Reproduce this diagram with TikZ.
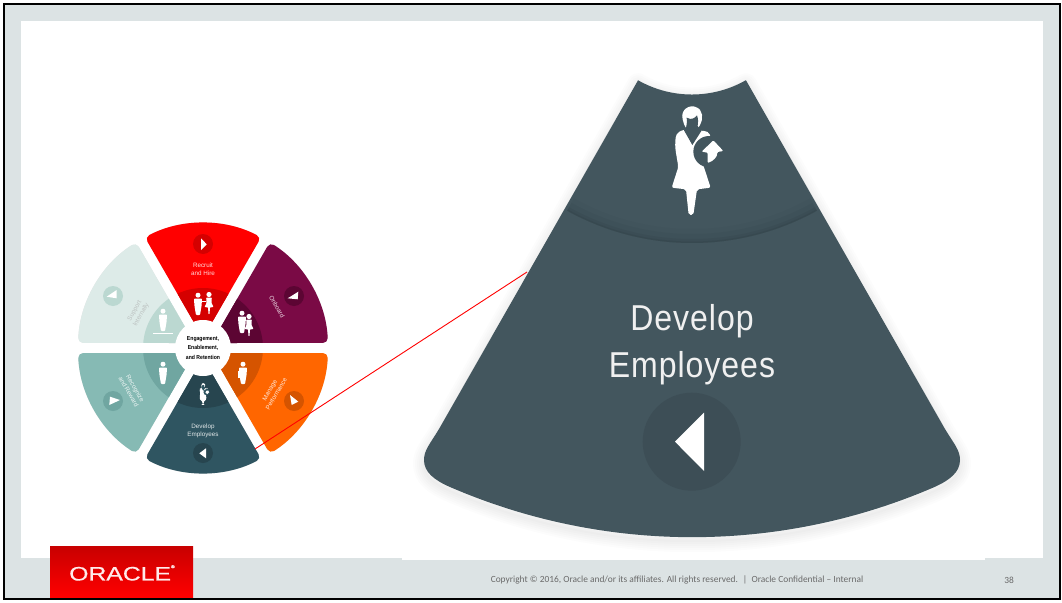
\documentclass[tikz,border=0pt]{standalone}
\usepackage{fontspec}
\setmainfont{Liberation Sans}
\newfontfamily\footfont{Carlito}
\definecolor{framegrey}{HTML}{DCE3E4}
\definecolor{bigslate}{HTML}{43565E}
\definecolor{bigbtn}{HTML}{3D4E56}
\definecolor{footgrey}{HTML}{6A6A6A}
\definecolor{logotop}{HTML}{C80000}
\definecolor{logobot}{HTML}{FF0000}
\definecolor{redA}{HTML}{FF0000}\definecolor{redB}{HTML}{D50000}
\definecolor{plumA}{HTML}{7A0A45}\definecolor{plumB}{HTML}{5C0533}
\definecolor{orA}{HTML}{FF6600}\definecolor{orB}{HTML}{D55400}
\definecolor{tealA}{HTML}{2F5561}\definecolor{tealB}{HTML}{27454F}
\definecolor{seaA}{HTML}{86BAB4}\definecolor{seaB}{HTML}{70A6A1}
\definecolor{mistA}{HTML}{DDEBE8}\definecolor{mistB}{HTML}{BBD8D1}
\newcommand{\sectorpath}{(-117.7:125) arc (-117.7:-62.3:125) -- (0,-10) -- cycle}
\newcommand{\bigpath}{(638.1,80.2) -- (439.3,428.5) .. controls (430,444) and (424,450) .. (424,460) .. controls (424,472) and (434,480) .. (450,487) arc (113.4:66.6:610) .. controls (950,480) and (960,472) .. (960,460) .. controls (960,450) and (954,444) .. (944.7,428.5) -- (745.9,80.2) arc (60.3:119.7:109) -- cycle}
\newcommand{\wheelpart}[3]{%
  \begin{scope}[shift={(203,348)},rotate=#1]
    \fill[black,opacity=.10,rounded corners=6pt] \sectorpath;
    \begin{scope}
      \clip[rounded corners=5pt] (-117.7:125) arc (-117.7:-62.3:125) -- (0,-10) -- cycle;
      \fill[#2] (-130,-130) rectangle (130,130);
      \fill[#3] (0,0) circle (60);
    \end{scope}
  \end{scope}}
\tikzset{
  minilabel/.style={text=white,opacity=.85,font=\fontsize{6.3}{7.6}\selectfont,align=center,inner sep=0},
  pics/man/.style={code={
    \begin{scope}[yscale=-1]
    \fill (0,-8.8) circle (2.5);
    \fill[rounded corners=.8pt] (-4,-5.5) -- (4,-5.5) -- (3.6,1.5) -- (2,11) -- (-2,11) -- (-3.6,1.5) -- cycle;
    \end{scope}
  }},
  pics/lady/.style={code={
    \begin{scope}[yscale=-1]
    \fill (0,-8.5) circle (2.6);
    \fill[rounded corners=.6pt] (-2.8,-5.5) -- (2.8,-5.5) -- (2.5,0) -- (4.5,4) -- (.9,4.5) -- (.6,11) -- (-.6,11) -- (-.9,4.5) -- (-4.5,4) -- (-2.5,0) -- cycle;
    \end{scope}
  }},
  pics/woman/.style={code={
    \begin{scope}[yscale=-1,x=.3333pt,y=.3333pt,shift={(-218,-240)}]
      \fill[white] (193,115) .. controls (185,85) and (215,70) .. (232,78)
        .. controls (255,85) and (255,115) .. (246,130)
        .. controls (240,142) and (232,150) .. (222,152)
        .. controls (205,150) and (197,135) .. (193,115) -- cycle;
      \fill[white,rounded corners=2pt] (195,146) -- (262,150) .. controls (272,155) and (277,165) .. (277,175)
        -- (270,205) -- (254,250) -- (277,320) -- (236,325) -- (225,402) -- (211,402) -- (203,325)
        -- (160,320) -- (180,258) -- (172,210) .. controls (170,190) and (170,170) .. (178,155) -- cycle;
      \fill[#1] (205,110) .. controls (220,118) and (228,112) .. (236,103)
        .. controls (240,115) and (240,125) .. (238,135) -- (249,150) -- (222,192) -- (197,148)
        .. controls (203,142) and (207,135) .. (205,110) -- cycle;
      \fill[#1] (272,212) circle (47);
      \fill[white,rounded corners=1pt] (268,246) -- (268,215) -- (250,212) -- (285,178) -- (315,210) -- (297,213)
        .. controls (297,228) and (285,240) .. (268,246) -- cycle;
    \end{scope}
  }},
}
\begin{document}
\begin{tikzpicture}[x=1pt,y=1pt,yscale=-1,line cap=butt]
\useasboundingbox (0,0) rectangle (1062,602);
\fill[white] (0,0) rectangle (1062,602);
\fill[framegrey] (4,4) rectangle (1060,599);
\fill[white] (21,21) rectangle (1043,558);
\fill[white] (402,558) rectangle (985,559.5);

% ---------- big segment ----------
\foreach \w in {22,18,14,10,6,2}{
  \draw[black,opacity=.012,line width=\w pt,line join=round,yshift=4pt] \bigpath;
}
\fill[bigslate] \bigpath;
\begin{scope}
  \clip \bigpath;
  \begin{scope}[shift={(692,-14.5)}]
    \foreach \w/\o in {14/.02,9/.03,4/.04,1.5/.05}{
      \draw[black,opacity=\o,line width=\w pt] (119:257.5-\w/2) arc (119:61:257.5-\w/2);
    }
  \end{scope}
\end{scope}
\pic at (691,161) {woman=bigslate};
\fill[bigbtn] (691.7,441.7) circle (49);
\fill[white] (675,441.7) -- (704,412.7) -- (704,471) -- cycle;
\node[text=white!94!black,font=\fontsize{36}{46.7}\selectfont\addfontfeature{LetterSpace=3},align=center,inner sep=0] (bigtitle) at (692,345) {\scalebox{.89}[1]{Develop}\\\scalebox{.89}[1]{Employees}};

% ---------- wheel ----------
\wheelpart{0}{redA}{redB}
\wheelpart{60}{plumA}{plumB}
\wheelpart{120}{orA}{orB}
\wheelpart{180}{tealA}{tealB}
\wheelpart{240}{seaA}{seaB}
\wheelpart{300}{mistA}{mistB}
\node[circle,fill=white,minimum size=56pt,inner sep=0] (hub) at (203,348) {};
\node[font=\fontsize{5.8}{9.4}\selectfont\bfseries,align=center,inner sep=0] (hubtext) at (hub.center) {\scalebox{.88}[1]{Engagement,}\\\scalebox{.88}[1]{Enablement,}\\\scalebox{.88}[1]{and Retention}};

% buttons
\fill[redB] (203,244) circle (10);
\fill[white] (201,238.3) -- (206.7,244.3) -- (201,250) -- cycle;
\fill[plumB] (294,296) circle (10);
\fill[white] (287.7,298.3) -- (298.3,291.7) -- (297.7,299.3) -- cycle;
\fill[orB] (294,401) circle (10);
\fill[white] (290,395) -- (298.3,401.7) -- (291.7,405) -- cycle;
\fill[tealB] (203,453) circle (10);
\fill[white] (199.3,453.3) -- (206,448.3) -- (206,458.3) -- cycle;
\fill[seaB] (113,401) circle (10);
\fill[white] (110,396.7) -- (120,400) -- (109.3,405) -- cycle;
\fill[mistB] (113,296) circle (10);
\fill[white] (106.7,296.7) -- (116.7,290) -- (116.7,298.3) -- cycle;

% labels
\node[minilabel] (recruit) at (203,269) {Recruit\\and Hire};
\node[minilabel,rotate=-60] (onboard) at (277,307) {Onboard};
\node[minilabel,rotate=60] (manage) at (273,392) {Manage\\Performance};
\node[minilabel] (develop) at (203,431) {Develop\\Employees};
\node[minilabel,rotate=-60] (recognize) at (132,390) {Recognize\\and Reward};
\node[minilabel,rotate=60,text=black!35,opacity=.6] (support) at (138,313) {Support\\Internally};

% figures
\begin{scope}[white]
  \pic[white] at (198,304) {man};
  \pic[white] at (209,303) {lady};
  \fill[white] (201,301) rectangle (206,302.2);
  \pic[white] at (242,322) {man};
  \pic[white] at (249,325) {lady};
  \pic[white] at (243,373) {man};
  \fill[white] (238,371) rectangle (243,378);
  \pic[white,scale=.2] at (203,394) {woman=tealA};
  \pic[white] at (163,373) {man};
  \pic[white] at (163,320) {man};
  \fill[white] (153,332.5) rectangle (173,333.5);
\end{scope}

% connector
\coordinate (zoomfrom) at (255,449);
\coordinate (zoomto) at (527,272);
\draw[red,line width=.9pt] (zoomfrom) -- (zoomto);

% ---------- footer ----------
\shade[top color=logotop,bottom color=logobot] (50,546) rectangle (193,597);
\node[text=white!92!red,font=\fontsize{19.5}{20}\selectfont\addfontfeature{FakeBold=.6},inner sep=0] (oracle) at (122,573) {\scalebox{1.27}[1]{ORACLE\raisebox{1.2ex}{\fontsize{4}{4}\selectfont®}}};
\node[text=footgrey,font=\footfont\fontsize{9.4}{10}\selectfont,inner sep=0] (copyright) at (677,580) {Copyright © 2016, Oracle and/or its affiliates. All rights reserved. ~|~ Oracle Confidential – Internal};
\node[text=footgrey,font=\footfont\fontsize{9.4}{10}\selectfont,inner sep=0] (pageno) at (1009,580) {38};

\draw[black,line width=2.6pt] (4,4) rectangle (1060,599);
\end{tikzpicture}
\end{document}
